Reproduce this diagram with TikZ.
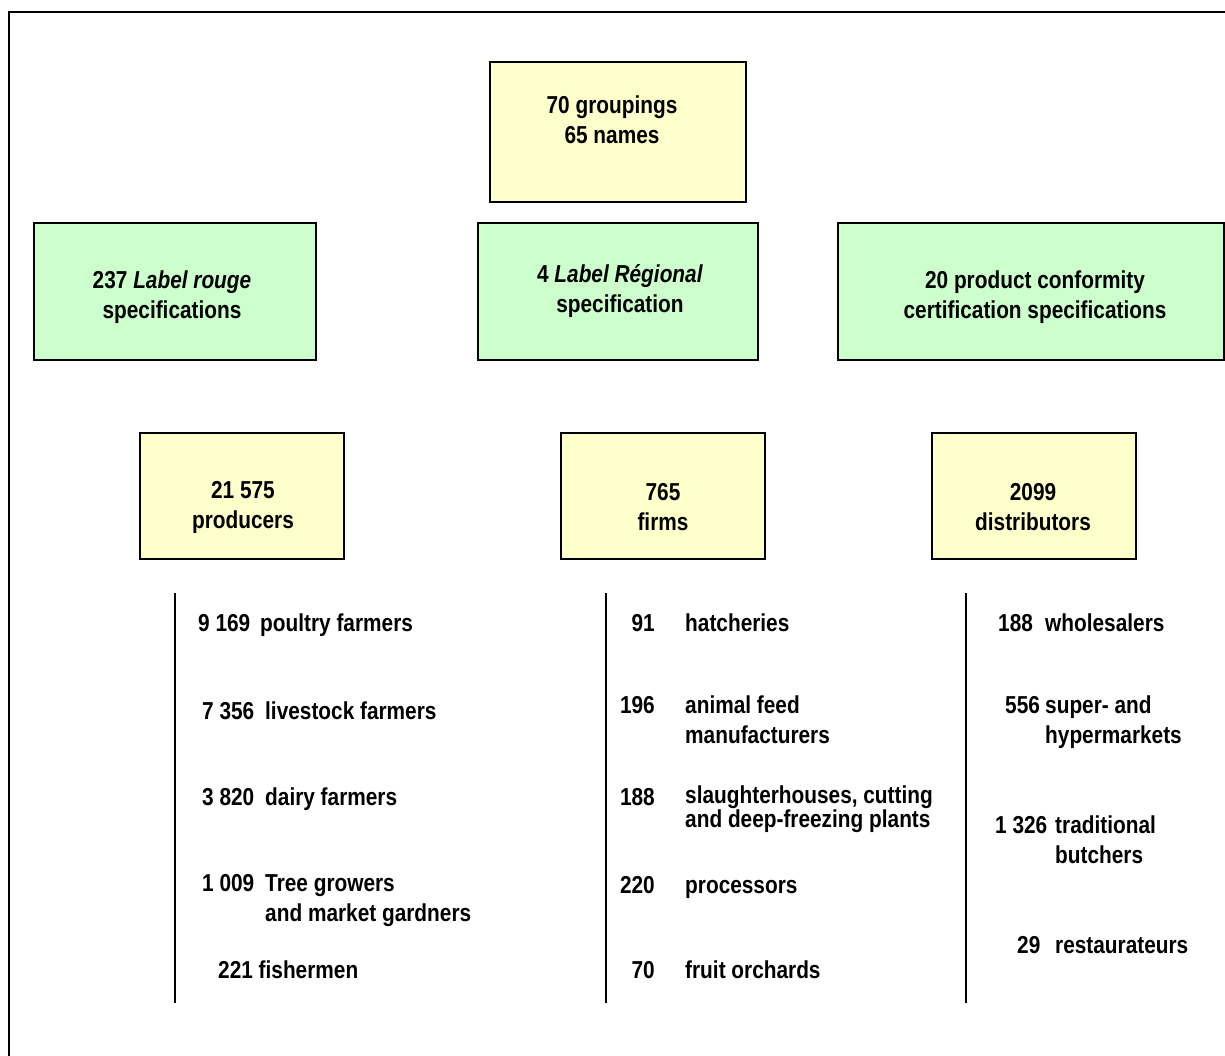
\documentclass[tikz,border=0pt]{standalone}
\usepackage{fontspec}
\setmainfont{Liberation Sans}[FakeStretch=0.85]
\begin{document}
\begin{tikzpicture}[x=1pt,y=-1pt,
  every node/.style={font=\bfseries\fontsize{24.5}{30}\selectfont, inner sep=0pt},
  ybox/.style={draw=black, line width=1.4pt, fill=yellowfill, rectangle},
  gbox/.style={draw=black, line width=1.4pt, fill=greenfill, rectangle},
  ctext/.style={align=center},
  ltext/.style={align=left, anchor=base west},
  numw/.style={anchor=base west},
  nume/.style={anchor=base east},
  frameline/.style={line width=2pt},
  sepline/.style={line width=1.4pt}]
\definecolor{yellowfill}{HTML}{FFFFCC}
\definecolor{greenfill}{HTML}{CCFFCC}
\useasboundingbox (0,0) rectangle (1225,1055);
% frame
\coordinate (fTL) at (9,12);
\coordinate (fTR) at (1226,12);
\coordinate (fBL) at (9,1056);
\draw[frameline] (fBL) -- (fTL) -- (fTR);
% top box
\node[ybox, minimum width=256, minimum height=140] (top) at (618,132) {};
\node[ctext] (toptxt) at (612,120) {70 groupings\\65 names};
% green boxes
\node[gbox, minimum width=282, minimum height=137] (gL) at (175,291.5) {};
\node[ctext] (gLtxt) at (172,297) {237 \textit{Label rouge}\\specifications};
\node[gbox, minimum width=280, minimum height=137] (gM) at (618,291.5) {};
\node[ctext] (gMtxt) at (620,291) {4 \textit{Label Régional}\\specification};
\node[gbox, minimum width=386, minimum height=137] (gR) at (1031,291.5) {};
\node[ctext] (gRtxt) at (1035,297) {20 product conformity\\certification specifications};
% yellow row
\node[ybox, minimum width=204, minimum height=126] (yL) at (242,496) {};
\node[ctext] (yLtxt) at (243,507) {21 575\\producers};
\node[ybox, minimum width=204, minimum height=126] (yM) at (663,496) {};
\node[ctext] (yMtxt) at (663,507) {765\\firms};
\node[ybox, minimum width=204, minimum height=126] (yR) at (1034,496) {};
\node[ctext] (yRtxt) at (1033,507) {2099\\distributors};
% vertical lines
\coordinate (vL1) at (175,593); \coordinate (vL2) at (175,1003);
\coordinate (vM1) at (606,593); \coordinate (vM2) at (606,1003);
\coordinate (vR1) at (966,593); \coordinate (vR2) at (966,1003);
\draw[sepline] (vL1) -- (vL2);
\draw[sepline] (vM1) -- (vM2);
\draw[sepline] (vR1) -- (vR2);
% left list
\node[numw] (n1) at (198,631) {9 169};
\node[ltext] (t1) at (260,631) {poultry farmers};
\node[numw] (n2) at (202,719) {7 356};
\node[ltext] (t2) at (265,719) {livestock farmers};
\node[numw] (n3) at (202,805) {3 820};
\node[ltext] (t3) at (265,805) {dairy farmers};
\node[numw] (n4) at (202,891) {1 009};
\node[ltext] (t4) at (265,921) {Tree growers\\and market gardners};
\node[numw] (n5) at (218,978) {221 fishermen};
% middle list
\node[nume] (m1) at (655,631) {91};
\node[ltext] (u1) at (685,631) {hatcheries};
\node[nume] (m2) at (655,713) {196};
\node[ltext] (u2) at (685,743) {animal feed\\manufacturers};
\node[nume] (m3) at (655,805) {188};
\node[ltext, font=\bfseries\fontsize{24.5}{22}\selectfont] (u3) at (685,827) {slaughterhouses, cutting\\and deep-freezing plants};
\node[nume] (m4) at (655,893) {220};
\node[ltext] (u4) at (685,893) {processors};
\node[nume] (m5) at (655,978) {70};
\node[ltext] (u5) at (685,978) {fruit orchards};
% right list
\node[numw] (r1) at (998,631) {188};
\node[ltext] (s1) at (1045,631) {wholesalers};
\node[numw] (r2) at (1005,713) {556};
\node[ltext] (s2) at (1045,743) {super- and\\hypermarkets};
\node[numw] (r3) at (995,833) {1 326};
\node[ltext] (s3) at (1055,863) {traditional\\butchers};
\node[numw] (r4) at (1017,953) {29};
\node[ltext] (s4) at (1055,953) {restaurateurs};
\end{tikzpicture}
\end{document}
